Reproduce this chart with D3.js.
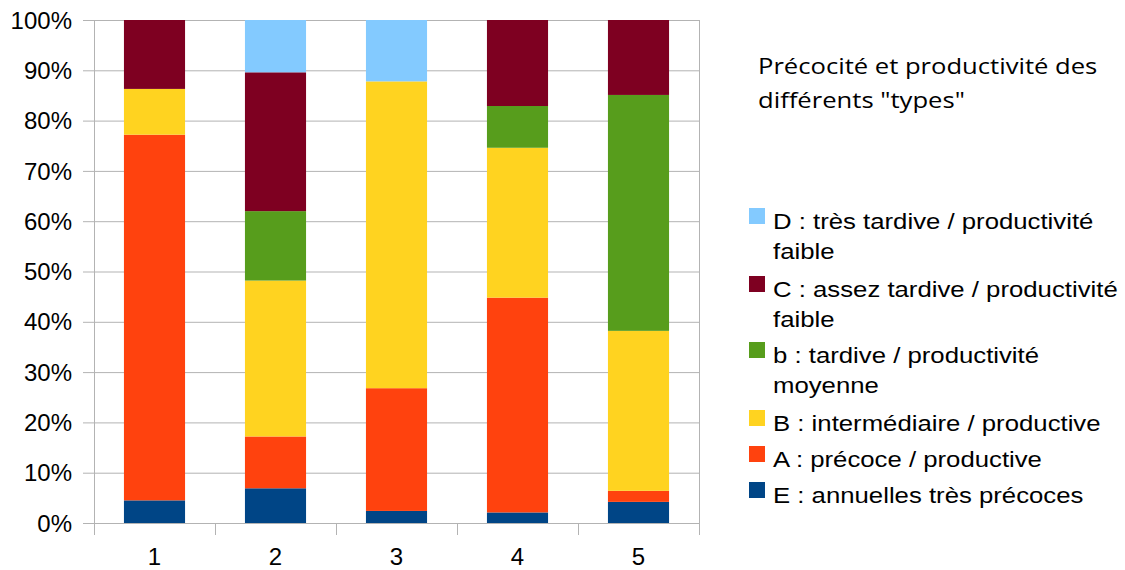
<!DOCTYPE html>
<html><head><meta charset="utf-8">
<script src="https://cdn.jsdelivr.net/npm/d3@7/dist/d3.min.js"></script>
<style>body{margin:0;background:#fff}svg{display:block}</style>
</head><body>
<svg id="c" width="1125" height="570"></svg>
<script>
const categories = ["1","2","3","4","5"];
const seriesNames = ["E : annuelles très précoces","A : précoce / productive","B : intermédiaire / productive","b : tardive / productivité moyenne","C : assez tardive / productivité faible","D : très tardive / productivité faible"];
const legendLines = [
  ["D : très tardive / productivité","faible"],
  ["C : assez tardive / productivité","faible"],
  ["b : tardive / productivité","moyenne"],
  ["B : intermédiaire / productive"],
  ["A : précoce / productive"],
  ["E : annuelles très précoces"]
];
const seriesColors = ["#004586","#ff420e","#ffd320","#579d1c","#7e0021","#83caff"];
const E = [4.5, 6.9, 2.4, 2.1, 4.2];
const A = [72.7, 10.3, 24.4, 42.7, 2.2];
const B = [9.1, 31.0, 61.0, 29.8, 31.8];
const b = [0, 13.8, 0, 8.3, 46.9];
const C = [13.7, 27.6, 0, 17.1, 14.9];
const D = [0, 10.4, 12.2, 0, 0];
const yTicks = [0,10,20,30,40,50,60,70,80,90,100];
const titleLines = ["Précocité et productivité des", "différents \"types\""];

const series = [E,A,B,b,C,D];
const svg = d3.select("#c");
const L=94, R=699, T=20, Bm=523;
const x = d3.scaleBand().domain(categories).range([L,R]).paddingInner(0).paddingOuter(0);
const y = d3.scaleLinear().domain([0,100]).range([Bm,T]);

// gridlines
svg.append("g").selectAll("line").data(yTicks).join("line")
  .attr("x1",83).attr("x2",R).attr("y1",d=>y(d)+0.5).attr("y2",d=>y(d)+0.5)
  .attr("stroke","#b3b3b3").attr("stroke-width",1);
svg.append("line").attr("x1",R+0.5).attr("x2",R+0.5).attr("y1",T).attr("y2",Bm+12).attr("stroke","#b3b3b3");

const rows = categories.map((c,i)=>{const o={cat:c}; series.forEach((s,k)=>o["s"+k]=s[i]); return o;});
const stack = d3.stack().keys(series.map((s,k)=>"s"+k))(rows);
const bw = x.bandwidth()*0.505;
svg.append("g").selectAll("g").data(stack).join("g").attr("fill",(d,k)=>seriesColors[k])
  .selectAll("rect").data(d=>d).join("rect")
  .attr("x",d=>x(d.data.cat)+(x.bandwidth()-bw)/2)
  .attr("width",bw)
  .attr("y",d=>y(d[1]))
  .attr("height",d=>Math.max(0,y(d[0])-y(d[1])));

svg.append("line").attr("x1",L+0.5).attr("x2",L+0.5).attr("y1",T).attr("y2",Bm+12).attr("stroke","#b3b3b3");
svg.append("line").attr("x1",83).attr("x2",R).attr("y1",Bm+0.5).attr("y2",Bm+0.5).attr("stroke","#b3b3b3");
const bounds = categories.map(c=>x(c)).concat([R]);
svg.append("g").selectAll("line").data(bounds).join("line")
  .attr("x1",d=>Math.round(d)+0.5).attr("x2",d=>Math.round(d)+0.5).attr("y1",Bm).attr("y2",Bm+12)
  .attr("stroke","#b3b3b3");

svg.append("g").selectAll("text").data(yTicks).join("text")
  .attr("x",72).attr("y",d=>y(d)).attr("dy","0.36em").attr("text-anchor","end")
  .attr("font-family","Liberation Sans, Arial, sans-serif").attr("font-size",24).attr("fill","#000")
  .text(d=>d+"%");
svg.append("g").selectAll("text").data(categories).join("text")
  .attr("x",d=>x(d)+x.bandwidth()/2).attr("y",565).attr("text-anchor","middle")
  .attr("font-family","Liberation Sans, Arial, sans-serif").attr("font-size",24).attr("fill","#000")
  .text(d=>d);

// title
svg.append("g").attr("transform","translate(758,0) scale(1.22,1)")
  .selectAll("text").data(titleLines).join("text")
  .attr("x",0).attr("y",(d,i)=>74+i*34)
  .attr("font-family","Open Sans, sans-serif").attr("font-size",21).attr("fill","#000")
  .text(d=>d);

// legend
const legY = [229, 297, 363, 431, 467, 503];
const legColors = seriesColors.slice().reverse();
const lg = svg.append("g").selectAll("g").data(legendLines).join("g");
lg.append("rect").attr("x",749).attr("y",(d,i)=>legY[i]-21).attr("width",16).attr("height",16)
  .attr("fill",(d,i)=>legColors[i]);
lg.each(function(lines,i){
  d3.select(this).append("g").attr("transform","translate(773,0) scale(1.17,1)")
    .selectAll("text").data(lines).join("text")
    .attr("x",0).attr("y",(d,j)=>legY[i]+j*30)
    .attr("font-family","Liberation Sans, Arial, sans-serif").attr("font-size",22).attr("fill","#000")
    .text(d=>d);
});
</script>
</body></html>
